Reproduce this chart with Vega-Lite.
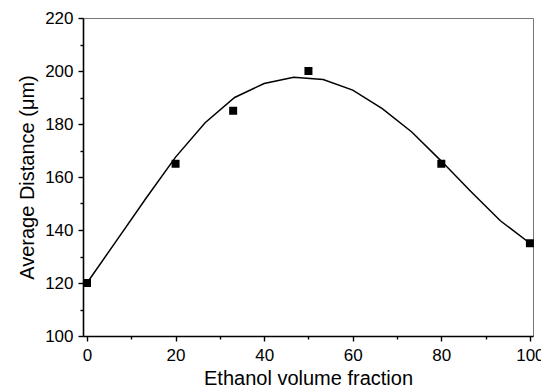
{
  "$schema": "https://vega.github.io/schema/vega-lite/v6.json",
  "autosize": "none",
  "width": 450,
  "height": 318,
  "padding": {"left": 83, "top": 18, "right": 8, "bottom": 54},
  "background": "white",
  "config": {
    "font": "Liberation Sans",
    "view": {"stroke": "#777777", "strokeWidth": 1},
    "axis": {
      "domainColor": "#000000",
      "domainWidth": 1.6,
      "tickColor": "#000000",
      "tickWidth": 1.4,
      "labelColor": "#000000",
      "labelFont": "Liberation Sans",
      "labelFontSize": 17,
      "titleColor": "#000000",
      "titleFont": "Liberation Sans",
      "titleFontSize": 20,
      "titleFontWeight": "normal",
      "grid": false
    }
  },
  "datasets": {
    "measured": [
      {"fraction": 0, "distance": 120},
      {"fraction": 20, "distance": 165},
      {"fraction": 33, "distance": 185},
      {"fraction": 50, "distance": 200},
      {"fraction": 80, "distance": 165},
      {"fraction": 100, "distance": 135}
    ],
    "fit": [
      {"fraction": 0, "distance": 120},
      {"fraction": 6.67, "distance": 136},
      {"fraction": 13.33, "distance": 152},
      {"fraction": 20, "distance": 167.5},
      {"fraction": 26.67, "distance": 180.5},
      {"fraction": 33.33, "distance": 190},
      {"fraction": 40, "distance": 195.3},
      {"fraction": 46.67, "distance": 197.6},
      {"fraction": 53.33, "distance": 196.8},
      {"fraction": 60, "distance": 192.8},
      {"fraction": 66.67, "distance": 185.8},
      {"fraction": 73.33, "distance": 177},
      {"fraction": 80, "distance": 166},
      {"fraction": 86.67, "distance": 154.5},
      {"fraction": 93.33, "distance": 143.5},
      {"fraction": 100, "distance": 135}
    ]
  },
  "encoding": {
    "x": {
      "field": "fraction",
      "type": "quantitative",
      "scale": {"domain": [-0.9, 100.7], "nice": false, "zero": false},
      "axis": {
        "title": "Ethanol volume fraction",
        "values": [0, 10, 20, 30, 40, 50, 60, 70, 80, 90, 100],
        "labelExpr": "datum.value % 20 === 0 ? datum.label : ''",
        "tickSize": {"condition": {"test": "datum.value % 20 === 0", "value": 5}, "value": 3},
        "labelPadding": 6,
        "titlePadding": 5
      }
    },
    "y": {
      "field": "distance",
      "type": "quantitative",
      "scale": {"domain": [100, 220], "nice": false, "zero": false},
      "axis": {
        "title": "Average Distance (μm)",
        "values": [100, 110, 120, 130, 140, 150, 160, 170, 180, 190, 200, 210, 220],
        "labelExpr": "datum.value % 20 === 0 ? datum.label : ''",
        "tickSize": {"condition": {"test": "datum.value % 20 === 0", "value": 5}, "value": 3},
        "labelPadding": 5,
        "titlePadding": 7
      }
    }
  },
  "layer": [
    {
      "data": {"name": "fit"},
      "mark": {"type": "line", "color": "#000000", "strokeWidth": 1.5}
    },
    {
      "data": {"name": "measured"},
      "mark": {"type": "point", "shape": "square", "filled": true, "color": "#000000", "opacity": 1, "size": 64}
    }
  ]
}
